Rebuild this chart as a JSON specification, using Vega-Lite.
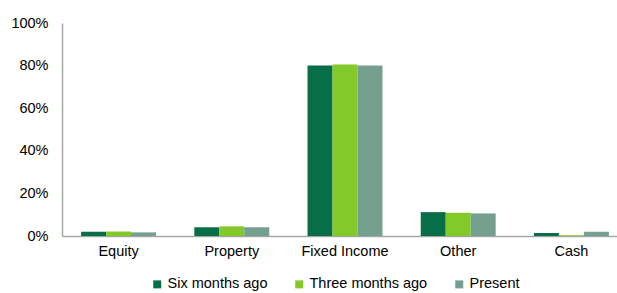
{
  "$schema": "https://vega.github.io/schema/vega-lite/v6.json",
  "width": 555,
  "height": 213,
  "autosize": {"type": "none"},
  "padding": {"left": 62, "top": 23, "right": 0, "bottom": 57},
  "background": "white",
  "config": {
    "view": {"stroke": null},
    "font": "Liberation Sans",
    "axis": {"labelFont": "Liberation Sans", "labelFontSize": 14.5, "labelColor": "#000000", "domainColor": "#a6a6a6", "domainWidth": 1.5, "ticks": false, "grid": false, "title": null},
    "legend": {"labelFont": "Liberation Sans", "labelFontSize": 14.5, "labelColor": "#000000"}
  },
  "data": {
    "values": [
      {"asset": "Equity", "period": "Six months ago", "value": 0.020},
      {"asset": "Equity", "period": "Three months ago", "value": 0.021},
      {"asset": "Equity", "period": "Present", "value": 0.017},
      {"asset": "Property", "period": "Six months ago", "value": 0.041},
      {"asset": "Property", "period": "Three months ago", "value": 0.045},
      {"asset": "Property", "period": "Present", "value": 0.041},
      {"asset": "Fixed Income", "period": "Six months ago", "value": 0.801},
      {"asset": "Fixed Income", "period": "Three months ago", "value": 0.805},
      {"asset": "Fixed Income", "period": "Present", "value": 0.800},
      {"asset": "Other", "period": "Six months ago", "value": 0.112},
      {"asset": "Other", "period": "Three months ago", "value": 0.109},
      {"asset": "Other", "period": "Present", "value": 0.106},
      {"asset": "Cash", "period": "Six months ago", "value": 0.014},
      {"asset": "Cash", "period": "Three months ago", "value": 0.003},
      {"asset": "Cash", "period": "Present", "value": 0.020}
    ]
  },
  "mark": {"type": "bar"},
  "encoding": {
    "x": {
      "field": "asset",
      "type": "nominal",
      "sort": ["Equity", "Property", "Fixed Income", "Other", "Cash"],
      "scale": {"range": [0, 566], "paddingInner": 0.338, "paddingOuter": 0.169},
      "axis": {"labelAngle": 0, "labelPadding": 8, "domain": true}
    },
    "xOffset": {
      "field": "period",
      "type": "nominal",
      "sort": ["Six months ago", "Three months ago", "Present"],
      "scale": {"paddingInner": 0, "paddingOuter": 0}
    },
    "y": {
      "field": "value",
      "type": "quantitative",
      "scale": {"domain": [0, 1]},
      "axis": {"format": ".0%", "values": [0, 0.2, 0.4, 0.6, 0.8, 1], "labelPadding": 14}
    },
    "color": {
      "field": "period",
      "type": "nominal",
      "sort": ["Six months ago", "Three months ago", "Present"],
      "scale": {"domain": ["Six months ago", "Three months ago", "Present"], "range": ["#076e47", "#84c92a", "#75a08f"]},
      "legend": {
        "title": null,
        "orient": "none",
        "direction": "horizontal",
        "legendX": 88,
        "legendY": 254,
        "padding": 0,
        "symbolType": "square",
        "symbolSize": 64,
        "symbolStrokeWidth": 0,
        "labelOffset": 3,
        "columnPadding": 24
      }
    }
  }
}
